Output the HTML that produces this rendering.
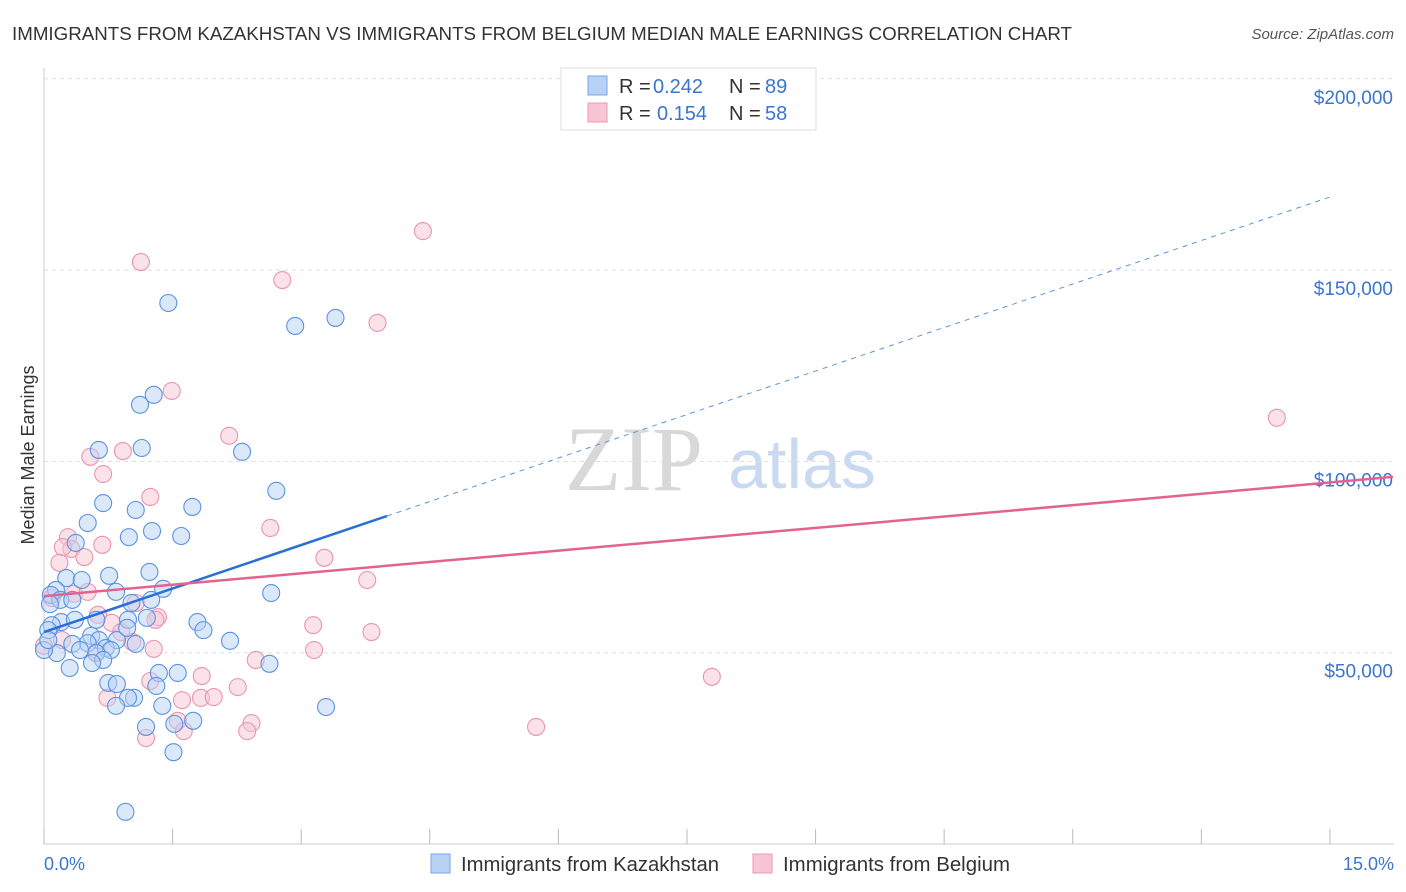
<!DOCTYPE html>
<html><head><meta charset="utf-8"><style>
body{margin:0;background:#fff;font-family:"Liberation Sans",sans-serif;}
#wrap{position:relative;width:1406px;height:892px;overflow:hidden;}
</style></head><body>
<div id="wrap">
<svg id="chart" width="1406" height="892" xmlns="http://www.w3.org/2000/svg">
<text x="12" y="40" font-size="18" fill="#333" textLength="1060" lengthAdjust="spacingAndGlyphs">IMMIGRANTS FROM KAZAKHSTAN VS IMMIGRANTS FROM BELGIUM MEDIAN MALE EARNINGS CORRELATION CHART</text>
<text x="1394" y="39" font-size="15" fill="#555" font-style="italic" text-anchor="end">Source: ZipAtlas.com</text>
<text x="634" y="490" font-size="92" fill="#d8d8d8" font-family="Liberation Serif,serif" text-anchor="middle">ZIP</text>
<text x="802" y="488" font-size="70" fill="#c9daf0" text-anchor="middle">atlas</text>
<g id="grid"></g><g id="marks"></g><g id="lines"></g>
<text x="34" y="455" font-size="18" fill="#333" text-anchor="middle" transform="rotate(-90 34 455)">Median Male Earnings</text>
<text x="44" y="870" font-size="18" fill="#3a75d0">0.0%</text>
<text x="1394" y="870" font-size="18" fill="#3a75d0" text-anchor="end">15.0%</text>
<g>
<rect x="561" y="68" width="255" height="62" fill="#fff" stroke="#ddd"/>
<rect x="588" y="76" width="19" height="19" fill="#b8d2f5" stroke="#7aa6e6"/>
<rect x="588" y="103" width="19" height="19" fill="#f8c5d4" stroke="#ec99b3"/>
<text x="619" y="93" font-size="20" fill="#333">R =</text>
<text x="653" y="93" font-size="20" fill="#3a75d0">0.242</text>
<text x="729" y="93" font-size="20" fill="#333">N =</text>
<text x="765" y="93" font-size="20" fill="#3a75d0">89</text>
<text x="619" y="120" font-size="20" fill="#333">R =</text>
<text x="657" y="120" font-size="20" fill="#3a75d0">0.154</text>
<text x="729" y="120" font-size="20" fill="#333">N =</text>
<text x="765" y="120" font-size="20" fill="#3a75d0">58</text>
</g>
<g>
<rect x="431" y="854" width="19" height="19" fill="#b8d2f5" stroke="#7aa6e6"/>
<text x="461" y="871" font-size="20" fill="#333" textLength="258" lengthAdjust="spacingAndGlyphs">Immigrants from Kazakhstan</text>
<rect x="753" y="854" width="19" height="19" fill="#f8c5d4" stroke="#ec99b3"/>
<text x="783" y="871" font-size="20" fill="#333" textLength="227" lengthAdjust="spacingAndGlyphs">Immigrants from Belgium</text>
</g>
</svg>
</div>
<script>
const blueX=[1.45,2.93,3.40,1.28,1.12,0.64,1.14,2.31,0.69,1.07,1.73,2.71,0.51,1.26,0.99,1.60,0.37,0.26,0.76,0.44,1.23,1.39,0.14,0.08,0.19,0.07,0.33,0.84,1.25,1.02,2.65,1.79,1.86,0.98,1.20,0.20,0.36,0.09,0.61,0.05,0.55,0.64,0.51,0.85,0.97,1.07,0.33,0.42,0.72,0.78,0.15,0.61,0.69,0.30,0.56,2.17,2.63,0.75,0.85,1.05,0.98,1.34,1.31,1.56,1.38,0.84,1.19,1.74,1.52,3.29,1.51,0.95,0.0,0.05];
const blueY=[141.4,135.4,137.5,117.4,114.8,103.0,103.5,102.5,89.1,87.3,88.1,92.3,83.9,81.8,80.2,80.5,78.7,69.5,70.1,69.0,71.1,66.7,66.4,65.1,63.8,62.7,63.8,65.9,63.8,63.0,65.6,58.0,55.9,58.6,59.1,58.0,58.6,57.2,58.6,55.9,54.4,53.3,52.5,53.3,56.5,52.3,52.3,50.7,51.2,50.7,49.9,49.9,48.1,46.0,47.3,53.1,47.1,42.1,41.8,38.2,38.2,44.7,41.3,44.7,36.1,36.1,30.6,32.2,31.4,35.8,24.0,8.4,50.7,53.3];
const pinkX=[4.42,1.13,2.78,3.89,1.49,2.16,0.54,0.92,0.69,1.24,14.38,2.64,0.28,0.32,0.22,0.68,0.18,0.47,3.27,3.77,0.09,0.35,0.51,0.63,1.07,1.33,0.79,0.90,1.30,1.03,3.14,3.82,1.28,2.47,3.15,0.62,1.84,1.24,1.61,1.83,1.98,2.26,0.74,7.79,1.56,2.42,2.37,1.19,1.63,5.74,0.0,0.21];
const pinkY=[160.2,152.1,147.4,136.2,118.4,106.7,101.2,102.7,96.7,90.7,111.4,82.6,80.2,77.1,77.6,78.2,73.5,75.0,74.8,69.0,64.3,65.4,65.9,59.9,63.0,59.3,57.8,55.4,58.6,52.8,57.2,55.4,51.0,48.1,50.7,50.4,43.9,42.6,37.6,38.2,38.4,41.0,38.2,43.7,32.2,31.6,29.5,27.7,29.5,30.6,51.8,53.3];
const yTicks=[50,100,150,200];
const yTickLabels=["$50,000","$100,000","$150,000","$200,000"];
const xTicks=[0,1.5,3,4.5,6,7.5,9,10.5,12,13.5,15];
const blueTrend=[55.4,7.58]; const blueSolidEnd=4.0;
const pinkTrend=[64.8,1.98];

const xs=v=>44+v*85.73, ys=v=>844-v*3.826;
const NS="http://www.w3.org/2000/svg";
function mk(t,a,p){const e=document.createElementNS(NS,t);for(const k in a)e.setAttribute(k,a[k]);p.appendChild(e);return e;}
const grid=document.getElementById('grid'),marks=document.getElementById('marks'),lines=document.getElementById('lines');
mk('line',{x1:44,y1:68,x2:44,y2:844,stroke:'#ccc'},grid);
mk('line',{x1:44,y1:844,x2:1394,y2:844,stroke:'#ccc'},grid);
yTicks.forEach((t,i)=>{
  const g=mk('line',{x1:44,y1:ys(t),x2:1394,y2:ys(t),stroke:'#ddd','stroke-dasharray':'4,4'},grid);
  
  
  const l=mk('text',{x:1393,y:ys(t)+25,'font-size':19,fill:'#3a75d0','text-anchor':'end'},grid);
  l.textContent=yTickLabels[i];
  
  
});
xTicks.forEach(t=>{
  const k=mk('line',{x1:xs(t),y1:829,x2:xs(t),y2:844,stroke:'#bbb'},grid);
  
  
});
function dots(X,Y,fill,stroke,name){
  X.forEach((x,i)=>{
    const c=mk('circle',{cx:xs(x),cy:ys(Y[i]),r:8.5,fill:fill,'fill-opacity':0.5,stroke:stroke,'stroke-width':1.1},marks);
    
    
  });
}
dots(pinkX,pinkY,'#f8c5d4','#e995b0','point-belgium');
dots(blueX,blueY,'#b8d2f5','#5b93e0','point-kazakhstan');
let l1=mk('line',{x1:xs(0),y1:ys(blueTrend[0]),x2:xs(blueSolidEnd),y2:ys(blueTrend[0]+blueTrend[1]*blueSolidEnd),stroke:'#2a6fd6','stroke-width':2.5},lines);


let l2=mk('line',{x1:xs(blueSolidEnd),y1:ys(blueTrend[0]+blueTrend[1]*blueSolidEnd),x2:xs(15),y2:ys(blueTrend[0]+blueTrend[1]*15),stroke:'#5b93e0','stroke-width':1,'stroke-dasharray':'5,5'},lines);


let l3=mk('line',{x1:xs(0),y1:ys(pinkTrend[0]),x2:1393,y2:ys(pinkTrend[0]+pinkTrend[1]*(1393-44)/85.73),stroke:'#e4628f','stroke-width':2.5},lines);


</script>
</body></html>
